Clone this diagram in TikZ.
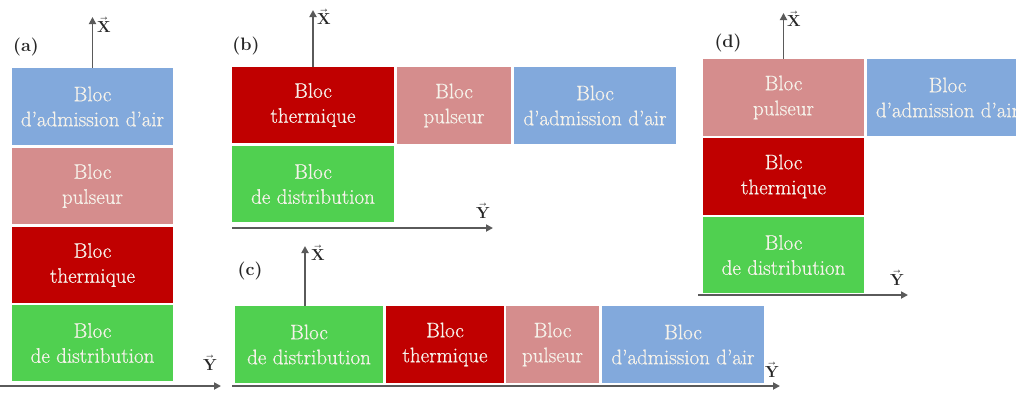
\documentclass[tikz,border=0pt]{standalone}
\usepackage{fontspec}
\usepackage{unicode-math}
\setmainfont{Latin Modern Roman}
\setmathfont{Latin Modern Math}
\newfontfamily\blkfont[FakeBold=0.6,Ligatures=TeX]{Latin Modern Roman}
\usetikzlibrary{arrows.meta}
\definecolor{cblue}{HTML}{82A9DC}
\definecolor{cpink}{HTML}{D58D8D}
\definecolor{cred}{HTML}{C00000}
\definecolor{cgreen}{HTML}{50D050}
\definecolor{caxis}{HTML}{5A5A5A}
\definecolor{ctext}{HTML}{F6F2EA}
\begin{document}
\begin{tikzpicture}[x=1pt,y=-1pt,
  blk/.style={draw=none,inner sep=0pt,align=center,text=ctext,
    font=\blkfont\fontsize{21}{25}\selectfont},
  axis/.style={draw=caxis,line width=1.8pt,-{Triangle[length=7pt,width=7pt]}},
  tag/.style={font=\bfseries\fontsize{18}{20}\selectfont,text=black!85},
  axl/.style={font=\fontsize{16}{18}\selectfont,text=black!85,inner sep=0pt}]
\useasboundingbox (0,0) rectangle (1016,392);
\clip (0,0) rectangle (1016,392);
\fill[white] (0,0) rectangle (1016,392);
% (a)
\node[blk,fill=cblue,minimum width=161,minimum height=77] (a1) at (92.5,106.5) {Bloc\\d’admission d’air};
\node[blk,fill=cpink,minimum width=161,minimum height=76] (a2) at (92.5,186) {Bloc\\pulseur};
\node[blk,fill=cred,minimum width=161,minimum height=76] (a3) at (92.5,265) {Bloc\\thermique};
\node[blk,fill=cgreen,minimum width=161,minimum height=76] (a4) at (92.5,343) {Bloc\\de distribution};
\coordinate (aXt) at (92.5,17);
\coordinate (aYs) at (0,386);
\coordinate (aYt) at (221,386);
\draw[axis] (a1.north) -- (aXt);
\draw[axis] (aYs) -- (aYt);
\node[tag] (la) at (26,47) {(a)};
\node[axl] (aX) at (104,25) {$\vec{\mathbf{X}}$};
\node[axl] (aY) at (210,363) {$\vec{\mathbf{Y}}$};
% (b)
\node[blk,fill=cred,minimum width=162,minimum height=76] (b1) at (313,105) {Bloc\\thermique};
\node[blk,fill=cpink,minimum width=114,minimum height=77] (b2) at (454,105.5) {Bloc\\pulseur};
\node[blk,fill=cblue,minimum width=162,minimum height=77] (b3) at (595,105.5) {Bloc\\d’admission d’air};
\node[blk,fill=cgreen,minimum width=162,minimum height=76] (b4) at (313,184) {Bloc\\de distribution};
\coordinate (bXt) at (313,10);
\coordinate (bYs) at (232,228);
\coordinate (bYt) at (493,228);
\draw[axis] (b1.north) -- (bXt);
\draw[axis] (bYs) -- (bYt);
\node[tag] (lb) at (246,46) {(b)};
\node[axl] (bX) at (324,17) {$\vec{\mathbf{X}}$};
\node[axl] (bY) at (483,211) {$\vec{\mathbf{Y}}$};
% (c)
\node[blk,fill=cgreen,minimum width=148,minimum height=77] (c1) at (309,344.5) {Bloc\\de distribution};
\node[blk,fill=cred,minimum width=118,minimum height=77] (c2) at (445,344.5) {Bloc\\thermique};
\node[blk,fill=cpink,minimum width=93,minimum height=77] (c3) at (552.5,344.5) {Bloc\\pulseur};
\node[blk,fill=cblue,minimum width=162,minimum height=77] (c4) at (683,344.5) {Bloc\\d’admission d’air};
\coordinate (cXt) at (305,246);
\coordinate (cYs) at (232,386);
\coordinate (cYt) at (780,386);
\draw[axis] (c1.north -| cXt) -- (cXt);
\draw[axis] (cYs) -- (cYt);
\node[tag] (lc) at (250,271) {(c)};
\node[axl] (cX) at (318,253) {$\vec{\mathbf{X}}$};
\node[axl] (cY) at (772,370) {$\vec{\mathbf{Y}}$};
% (d)
\node[blk,fill=cpink,minimum width=161,minimum height=77] (d1) at (783.5,97.5) {Bloc\\pulseur};
\node[blk,fill=cblue,minimum width=161,minimum height=77] (d2) at (947.5,97.5) {Bloc\\d’admission d’air};
\node[blk,fill=cred,minimum width=161,minimum height=77] (d3) at (783.5,176.5) {Bloc\\thermique};
\node[blk,fill=cgreen,minimum width=161,minimum height=76] (d4) at (783.5,255) {Bloc\\de distribution};
\coordinate (dXt) at (783.5,13);
\coordinate (dYs) at (698,295);
\coordinate (dYt) at (908,295);
\draw[axis] (d1.north) -- (dXt);
\draw[axis] (dYs) -- (dYt);
\node[tag] (ld) at (728,43) {(d)};
\node[axl] (dX) at (794,19) {$\vec{\mathbf{X}}$};
\node[axl] (dY) at (897,278) {$\vec{\mathbf{Y}}$};
\end{tikzpicture}
\end{document}
